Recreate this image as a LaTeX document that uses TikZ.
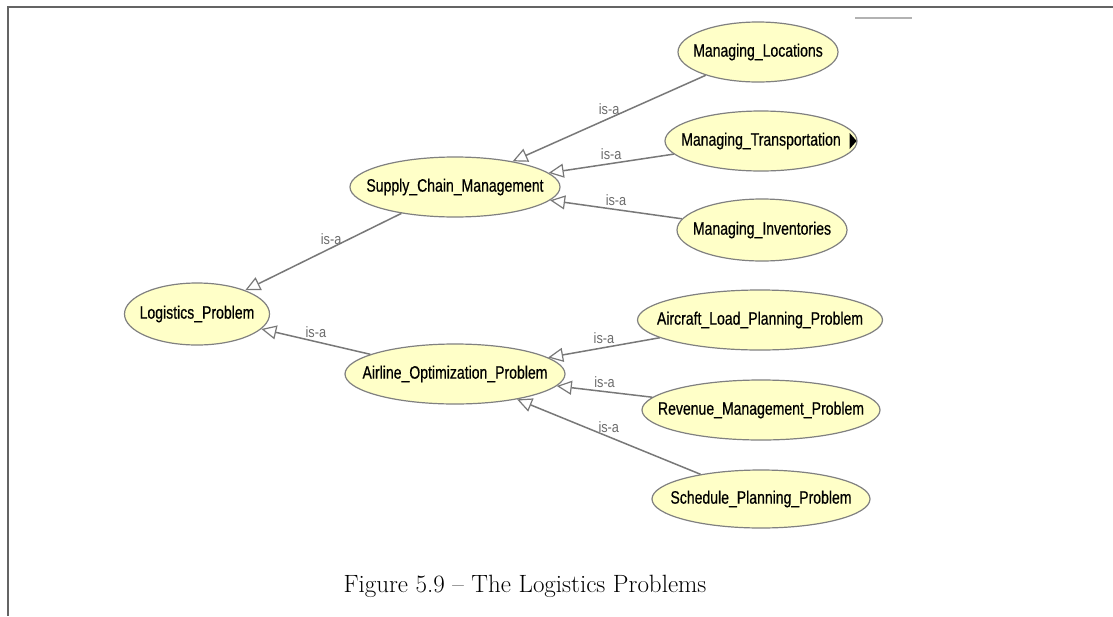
\documentclass[tikz,border=0pt]{standalone}
\usepackage{fontspec}
\usetikzlibrary{shapes.geometric,arrows.meta}
\newfontfamily\owlfont[FakeStretch=0.78,FakeBold=0.5]{Liberation Sans}
\newfontfamily\isafont[FakeStretch=0.85]{Liberation Sans}
\definecolor{owlfill}{RGB}{255,255,200}
\definecolor{owlline}{RGB}{128,128,128}
\definecolor{edgecol}{RGB}{120,120,120}
\definecolor{framecol}{RGB}{100,100,100}
\newcommand{\cl}[1]{\makebox[0pt]{#1}}
\tikzset{
  cls/.style={ellipse, draw=owlline, line width=1.2pt, fill=owlfill, inner sep=0pt,
    minimum height=60pt, font=\owlfont\fontsize{18}{18}\selectfont, text=black},
  isaedge/.style={draw=edgecol, line width=1.5pt, -{Triangle[open, length=15pt, width=14pt, line width=1.2pt]}},
  isalbl/.style={font=\isafont\fontsize{15}{15}\selectfont, text=gray!85!black, inner sep=1pt, above=2pt, pos=0.5}
}
\begin{document}
\begin{tikzpicture}[x=1pt,y=-1pt]
\useasboundingbox (0,0) rectangle (1113,616);
\fill[white] (0,0) rectangle (1113,616);
% frame
\draw[framecol, line width=2pt] (1113,7) -- (8,7) -- (8,616);
\draw[gray!60, line width=2.5pt] (855,18) -- (912,18);
% nodes
\node[cls, minimum width=160pt] (ml) at (758,52) {\cl{Managing\_Locations}};
\node[cls, minimum width=192pt] (mt) at (761,141) {\cl{Managing\_Transportation}};
\node[cls, minimum width=170pt, minimum height=62pt] (mi) at (762,230) {\cl{Managing\_Inventories}};
\node[cls, minimum width=210pt] (scm) at (455,187) {\cl{Supply\_Chain\_Management}};
\node[cls, minimum width=145pt, minimum height=62pt] (lp) at (197,314) {\cl{Logistics\_Problem}};
\node[cls, minimum width=220pt] (aop) at (455,374) {\cl{Airline\_Optimization\_Problem}};
\node[cls, minimum width=245pt] (alp) at (760,320) {\cl{Aircraft\_Load\_Planning\_Problem}};
\node[cls, minimum width=238pt] (rmp) at (761,410) {\cl{Revenue\_Management\_Problem}};
\node[cls, minimum width=218pt, minimum height=58pt] (spp) at (761,499) {\cl{Schedule\_Planning\_Problem}};
% black marker on Managing_Transportation
\fill[black] ([xshift=-8pt,yshift=8pt]mt.east) -- ([xshift=-1pt]mt.east) -- ([xshift=-8pt,yshift=-8pt]mt.east) -- cycle;
% edges
\draw[isaedge] (ml) -- node[isalbl] {is-a} (scm);
\draw[isaedge] (mt) -- node[isalbl] {is-a} (scm);
\draw[isaedge] (mi) -- node[isalbl] {is-a} (scm);
\draw[isaedge] (scm) -- node[isalbl, pos=0.45] {is-a} (lp);
\draw[isaedge] (aop) -- node[isalbl] {is-a} (lp);
\draw[isaedge] (alp) -- node[isalbl] {is-a} (aop);
\draw[isaedge] (rmp) -- node[isalbl] {is-a} (aop);
\draw[isaedge] (spp) -- node[isalbl] {is-a} (aop);
% caption
\node[anchor=base, font=\fontsize{25}{30}\selectfont, inner sep=0pt] (cap) at (525,592) {Figure 5.9 -- The Logistics Problems};
\end{tikzpicture}
\end{document}
